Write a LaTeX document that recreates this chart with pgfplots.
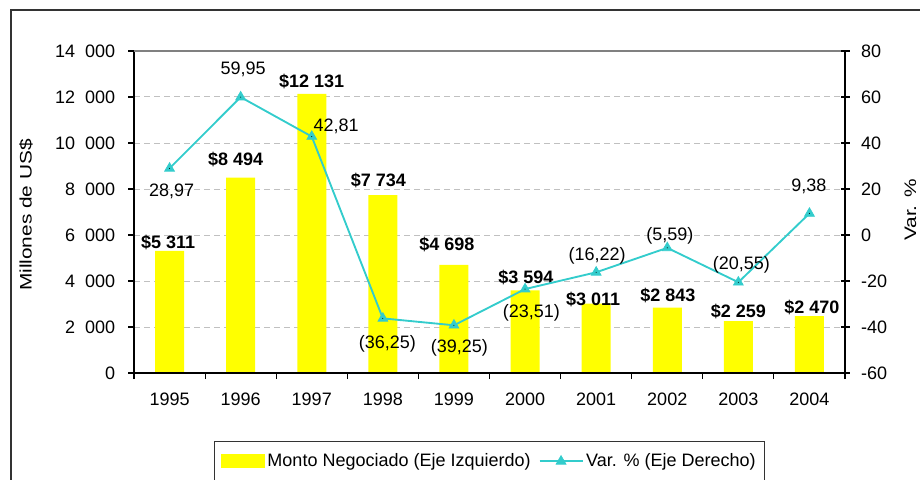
\documentclass[border=0pt]{standalone}
\usepackage{pgfplots}
\usepackage{pgfplotstable}
\pgfplotsset{compat=1.18}
\usepackage{fontspec}
\setmainfont{Liberation Sans}
\definecolor{barY}{HTML}{FFFF00}
\definecolor{lineT}{HTML}{33CCCC}
\definecolor{gridG}{HTML}{C0C0C0}
\definecolor{frameG}{HTML}{333333}

\pgfplotstableread{
x  y     dx    dy
0  5311  -1.1  6
1  8494  -3.7  13.5
2  12131 0     9
3  7734  -3.4  11.25
4  4698  -5.25 15
5  3594  0.6   9.75
6  3011  -2.25 3.4
7  2843  0.4   9.4
8  2259  0     7.1
9  2470  1.9   6.4
}\bars

\pgfplotstableread{
x v label dx dy
0 28.97 28,97 1.5 -17.5
1 59.95 59,95 1.8 21
2 42.81 42,81 18.3 7.9
3 -36.25 (36,25) 3.4 -19.2
4 -39.25 (39,25) 4 -17.25
5 -23.51 (23,51) 4.7 -18
6 -16.22 (16,22) 0.75 12
7 -5.59 (5,59) 1.9 9.3
8 -20.55 (20,55) 2.25 12.75
9 9.38 9,38 -0.4 20.25
}\varp

\begin{document}
\fontsize{13.5pt}{16pt}\selectfont
\begin{tikzpicture}
\path[use as bounding box] (0,0) rectangle (690pt,359.25pt);
\draw[frameG, line width=1.1pt] (8.25pt,-10pt) -- (8.25pt,351.75pt) -- (710pt,351.75pt);

\begin{axis}[
  at={(100.5pt,79.5pt)}, anchor=south west,
  scale only axis, width=533.25pt, height=241.5pt,
  xmin=-0.5, xmax=9.5, ymin=0, ymax=14000,
  scaled y ticks=false,
  axis line style={draw=none},
  xtick={0,1,2,3,4,5,6,7,8,9},
  xticklabels={1995,1996,1997,1998,1999,2000,2001,2002,2003,2004},
  xticklabel style={yshift=-6pt},
  minor xtick={-0.5,0.5,...,9.5},
  xtick pos=bottom, ytick pos=left,
  xticklabel pos=bottom, yticklabel pos=left,
  tick align=outside,
  major tick length=4.5pt, minor tick length=4.5pt,
  major x tick style={draw=none},
  minor x tick style={black, line width=0.8pt},
  major y tick style={black, line width=0.8pt},
  ytick={0,2000,4000,6000,8000,10000,12000,14000},
  yticklabels={0,2\hphantom{0}000,4\hphantom{0}000,6\hphantom{0}000,8\hphantom{0}000,10\hphantom{0}000,12\hphantom{0}000,14\hphantom{0}000},
  yticklabel style={xshift=-5pt},
  ymajorgrids,
  major grid style={gridG, dash pattern=on 4.5pt off 3pt, line width=0.75pt},
  clip=false,
]
\addplot[ybar, bar width=21.75pt, fill=barY, draw=none,
  point meta=y,
  nodes near coords={\textbf{\$\pgfmathprintnumber[assume math mode=true,fixed,precision=0,1000 sep={\ }]{\pgfplotspointmeta}}},
  visualization depends on={\thisrow{dx} \as \ldx},
  visualization depends on={\thisrow{dy} \as \ldy},
  every node near coord/.append style={anchor=center, xshift=\ldx pt, yshift=\ldy pt, text=black},
] table[x=x, y=y] {\bars};
\draw[black, line width=1pt] (rel axis cs:0,1) -- (rel axis cs:0,0) -- (rel axis cs:1,0) -- (rel axis cs:1,1);
\draw[gray, line width=1pt] (rel axis cs:0,1) -- (rel axis cs:1,1);
\end{axis}

\begin{axis}[
  at={(100.5pt,79.5pt)}, anchor=south west,
  scale only axis, width=533.25pt, height=241.5pt,
  xmin=-0.5, xmax=9.5, ymin=-60, ymax=80,
  axis line style={draw=none},
  xtick=\empty,
  ytick={-60,-40,-20,0,20,40,60,80},
  yticklabels={-60,-40,-20,0,20,40,60,80},
  ytick pos=right, yticklabel pos=right,
  tick align=center, major tick length=6.75pt,
  major y tick style={black, line width=0.8pt},
  yticklabel style={xshift=4pt},
  clip=false,
  legend style={at={(0.5,-0.212)}, anchor=north, legend columns=2,
    draw=black!80, line width=0.8pt, inner xsep=5pt, inner ysep=6.75pt,
    /tikz/every even column/.append style={column sep=4pt}},
]
\addlegendimage{legend image code/.code={\fill[barY] (0pt,-4.9pt) rectangle (32.25pt,4.9pt);}}
\addlegendentry{Monto Negociado (Eje Izquierdo)}
\addplot[lineT, line width=1.4pt, mark=triangle*, mark size=4.3pt,
  mark options={solid, fill=lineT, draw=lineT, line width=0.5pt},
  legend image code/.code={\draw[lineT, line width=1.4pt, mark=triangle*, mark size=4.3pt, mark options={solid, fill=lineT, draw=lineT, line width=0.5pt}, mark repeat=2, mark phase=2] plot coordinates {(0pt,0pt) (16.1pt,0pt) (32.25pt,0pt)};}
] table[x=x, y=v] {\varp};
\addlegendentry{Var. \% (Eje Derecho)}
\addplot[only marks, mark=*, mark size=0.1pt, mark options={draw=none, fill=none},
  forget plot,
  point meta=explicit symbolic,
  nodes near coords,
  visualization depends on={\thisrow{dx} \as \ldx},
  visualization depends on={\thisrow{dy} \as \ldy},
  every node near coord/.append style={anchor=center, xshift=\ldx pt, yshift=\ldy pt, text=black},
] table[x=x, y=v, meta=label] {\varp};
\end{axis}

\node[rotate=90, xscale=1.25, anchor=base, font=\fontsize{12.5pt}{15pt}\selectfont] at (23.8pt,198pt) {Millones de US\$};
\node[rotate=90, xscale=1.25, anchor=base, font=\fontsize{12.5pt}{15pt}\selectfont] at (687pt,201.75pt) {Var. \%};
\end{tikzpicture}
\end{document}
